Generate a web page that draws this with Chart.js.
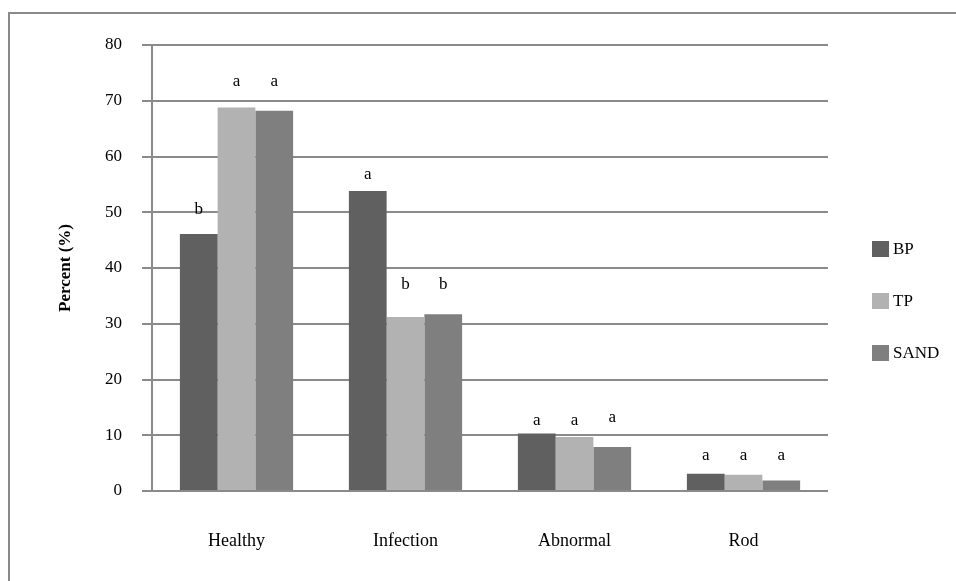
<!DOCTYPE html>
<html>
<head>
<meta charset="utf-8">
<script src="https://cdn.jsdelivr.net/npm/chart.js@4/dist/chart.umd.min.js"></script>
<style>
  html, body { margin: 0; padding: 0; background: #fff; }
  #wrap { position: relative; width: 956px; height: 581px; overflow: hidden; }
  #frame { position: absolute; left: 8px; top: 12px; width: 960px; height: 580px;
           border-top: 2px solid #8a8a8a; border-left: 2px solid #8a8a8a; box-sizing: border-box; }
  #c { position: absolute; left: 0; top: 0; }
</style>
</head>
<body>
<div id="wrap">
  <div id="frame"></div>
  <canvas id="c" width="956" height="581"></canvas>
</div>
<script>
const categories = ["Healthy", "Infection", "Abnormal", "Rod"];
const seriesNames = ["BP", "TP", "SAND"];
const bpValues   = [46.1, 53.8, 10.3, 3.1];
const tpValues   = [68.8, 31.2, 9.7, 2.9];
const sandValues = [68.2, 31.7, 7.9, 1.9];
// significance letters and the value level at which each letter sits
const bpLetters   = ["b", "a", "a", "a"];
const tpLetters   = ["a", "b", "a", "a"];
const sandLetters = ["a", "b", "a", "a"];
const bpLetterAt   = [49.7, 56.0, 11.8, 5.6];
const tpLetterAt   = [72.6, 36.2, 11.8, 5.6];
const sandLetterAt = [72.6, 36.2, 12.4, 5.6];
const yTicks = [0, 10, 20, 30, 40, 50, 60, 70, 80];

const FONT = "'Liberation Serif', 'Times New Roman', serif";
const GRID = "#8a8a8a";
const COLORS = ["#606060", "#b2b2b2", "#7f7f7f"];

const letterPlugin = {
  id: "letters",
  afterDatasetsDraw(chart) {
    const ctx = chart.ctx;
    const y = chart.scales.y;
    ctx.save();
    ctx.font = "17px " + FONT;
    ctx.fillStyle = "#000";
    ctx.textAlign = "center";
    ctx.textBaseline = "alphabetic";
    chart.data.datasets.forEach((ds, i) => {
      const meta = chart.getDatasetMeta(i);
      meta.data.forEach((bar, j) => {
        ctx.fillText(ds.letters[j], bar.x, y.getPixelForValue(ds.letterAt[j]));
      });
    });
    ctx.restore();
  }
};

const legendPlugin = {
  id: "sideLegend",
  afterDraw(chart) {
    const ctx = chart.ctx;
    const x0 = chart.chartArea.right + 44;
    const yCenter = 301, gap = 52;
    ctx.save();
    ctx.font = "17px " + FONT;
    ctx.textBaseline = "middle";
    ctx.textAlign = "left";
    const n = chart.data.datasets.length;
    chart.data.datasets.forEach((ds, i) => {
      const cy = yCenter + (i - (n - 1) / 2) * gap;
      ctx.fillStyle = ds.backgroundColor;
      ctx.fillRect(x0, cy - 8, 17, 16);
      ctx.fillStyle = "#000";
      ctx.fillText(ds.label, x0 + 21, cy + 1);
    });
    ctx.restore();
  }
};

new Chart(document.getElementById("c"), {
  type: "bar",
  data: {
    labels: categories,
    datasets: [
      { label: seriesNames[0], data: bpValues, letters: bpLetters, letterAt: bpLetterAt, backgroundColor: COLORS[0] },
      { label: seriesNames[1], data: tpValues, letters: tpLetters, letterAt: tpLetterAt, backgroundColor: COLORS[1] },
      { label: seriesNames[2], data: sandValues, letters: sandLetters, letterAt: sandLetterAt, backgroundColor: COLORS[2] }
    ]
  },
  options: {
    responsive: false,
    animation: false,
    devicePixelRatio: 1,
    layout: { padding: { left: 55, top: 45, right: 128, bottom: 29 } },
    datasets: { bar: { barPercentage: 1.0, categoryPercentage: 0.67 } },
    plugins: {
      legend: { display: false },
      tooltip: { enabled: false }
    },
    scales: {
      x: {
        grid: { display: false, drawTicks: false },
        border: { display: false },
        ticks: { font: { family: FONT, size: 18 }, color: "#000", padding: 39 },
        afterFit(scale) { scale.height = 61; }
      },
      y: {
        min: 0, max: 80,
        afterBuildTicks(axis) { axis.ticks = yTicks.map(v => ({ value: v })); },
        grid: { color: GRID, lineWidth: 2, tickLength: 10 },
        border: { display: true, color: GRID, width: 2 },
        ticks: { font: { family: FONT, size: 17 }, color: "#000", padding: 20 },
        title: { display: true, text: "Percent (%)", font: { family: FONT, size: 17, weight: "bold" }, color: "#000", padding: { top: 0, bottom: 10 } },
        afterFit(scale) { scale.width = 97; }
      }
    }
  },
  plugins: [letterPlugin, legendPlugin]
});
</script>
</body>
</html>
